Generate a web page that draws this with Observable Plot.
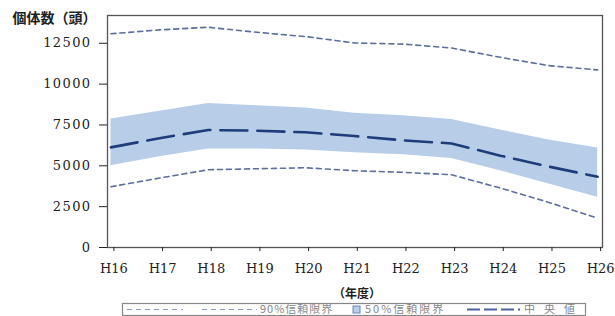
<!DOCTYPE html>
<html>
<head>
<meta charset="utf-8">
<script src="https://cdn.jsdelivr.net/npm/d3@7"></script>
<script src="https://cdn.jsdelivr.net/npm/@observablehq/plot@0.6"></script>
<style>
  html, body { margin: 0; padding: 0; background: #fff; overflow: hidden; }
  #chart svg { display: block; overflow: visible; }
  g[aria-label="y-axis tick label"] text { letter-spacing: 1.4px; }
</style>
</head>
<body>
<div id="chart"></div>
<script>
// ---- data ----
const years    = [16, 17, 18, 19, 20, 21, 22, 23, 24, 25, 26];
const xLabels  = ["H16","H17","H18","H19","H20","H21","H22","H23","H24","H25","H26"];
const upper90  = [13080, 13320, 13480, 13170, 12910, 12520, 12450, 12210, 11640, 11130, 10870];
const upper50  = [7870, 8340, 8820, 8680, 8540, 8210, 8070, 7830, 7190, 6580, 6090];
const median   = [6130, 6690, 7190, 7150, 7050, 6820, 6560, 6370, 5620, 4950, 4330];
const lower50  = [5000, 5560, 6030, 6030, 5970, 5800, 5680, 5450, 4700, 3890, 3070];
const lower90  = [3720, 4250, 4760, 4820, 4880, 4700, 4600, 4450, 3640, 2760, 1800];
const yTicks   = [0, 2500, 5000, 7500, 10000, 12500];
const yTitle   = "個体数（頭）";
const xTitle   = "（年度）";
const legendLabels = ["90%信頼限界", "50%信頼限界", "中央値"];

const data = years.map((y, i) => ({
  year: y, hi90: upper90[i], hi50: upper50[i], med: median[i], lo50: lower50[i], lo90: lower90[i]
}));

const bandFill = "#b8cde7";
const ciStroke = "#5d6f9b";
const medStroke = "#1e3c7a";

const chart = Plot.plot({
  width: 615,
  height: 302,
  marginLeft: 107,
  marginRight: 13,
  marginTop: 15,
  marginBottom: 55,
  style: { fontFamily: "DejaVu Serif", fontSize: "13px", color: "#222", background: "#fff", overflow: "visible" },
  x: { type: "linear", domain: [15.93, 26.1] },
  y: { domain: [0, 14200] },
  marks: [
    Plot.areaY(data, { x: "year", y1: "lo50", y2: "hi50", fill: bandFill }),
    Plot.lineY(data, { x: "year", y: "hi90", stroke: ciStroke, strokeWidth: 1.6, strokeDasharray: "5,4" }),
    Plot.lineY(data, { x: "year", y: "lo90", stroke: ciStroke, strokeWidth: 1.6, strokeDasharray: "5,4" }),
    Plot.lineY(data, { x: "year", y: "med", stroke: medStroke, strokeWidth: 2.6, strokeDasharray: "27,10" }),
    Plot.frame({ stroke: "#555", strokeWidth: 1.3 }),
    Plot.axisX({
      ticks: years,
      tickFormat: d => xLabels[years.indexOf(d)],
      tickSize: 4, tickPadding: 12, label: null, dx: 3, fontSize: 13
    }),
    Plot.axisY({
      ticks: yTicks,
      tickFormat: d => String(d),
      tickSize: 8, tickPadding: 8, label: null, fontSize: 13
    }),
    Plot.text([yTitle], {
      frameAnchor: "top-left", text: d => d, dx: -95, dy: 3,
      textAnchor: "start", lineAnchor: "middle",
      fontFamily: "Noto Sans CJK JP", fontWeight: "bold", fontSize: 14, fill: "#222"
    }),
    Plot.text([xTitle], {
      frameAnchor: "bottom", text: d => d, dx: 2, dy: 47,
      lineAnchor: "middle",
      fontFamily: "Noto Sans CJK JP", fontWeight: "bold", fontSize: 12, fill: "#222"
    })
  ]
});
document.getElementById("chart").appendChild(chart);

// ---- legend ----
const leg = d3.select("#chart").append("svg")
  .attr("width", 615).attr("height", 14)
  .style("display", "block")
  .style("font-family", "Noto Sans CJK JP");
leg.append("rect").attr("x", 122.5).attr("y", 1.5).attr("width", 463).attr("height", 12)
  .attr("fill", "#fff").attr("stroke", "#888").attr("stroke-width", 1.2);
const cy = 7.5;
[[127, 183], [202, 257]].forEach(([a, b]) => {
  leg.append("line").attr("x1", a).attr("x2", b).attr("y1", cy).attr("y2", cy)
    .attr("stroke", "#8a9cc4").attr("stroke-width", 1.2).attr("stroke-dasharray", "5,4");
});
leg.append("text").attr("x", 260).attr("y", cy).attr("dy", "0.36em")
  .attr("font-size", 11).attr("fill", "#888").attr("letter-spacing", 1).text(legendLabels[0]);
leg.append("rect").attr("x", 353).attr("y", cy - 3.5).attr("width", 7).attr("height", 7)
  .attr("fill", bandFill).attr("stroke", "#6b86b8").attr("stroke-width", 1);
leg.append("text").attr("x", 365).attr("y", cy).attr("dy", "0.36em")
  .attr("font-size", 11).attr("fill", "#888").attr("letter-spacing", 2).text(legendLabels[1]);
leg.append("line").attr("x1", 467).attr("x2", 520).attr("y1", cy).attr("y2", cy)
  .attr("stroke", "#4a64a0").attr("stroke-width", 1.8).attr("stroke-dasharray", "13,4");
leg.append("text").attr("x", 524).attr("y", cy).attr("dy", "0.36em")
  .attr("font-size", 11).attr("fill", "#888").attr("letter-spacing", 9).text(legendLabels[2]);
</script>
</body>
</html>
